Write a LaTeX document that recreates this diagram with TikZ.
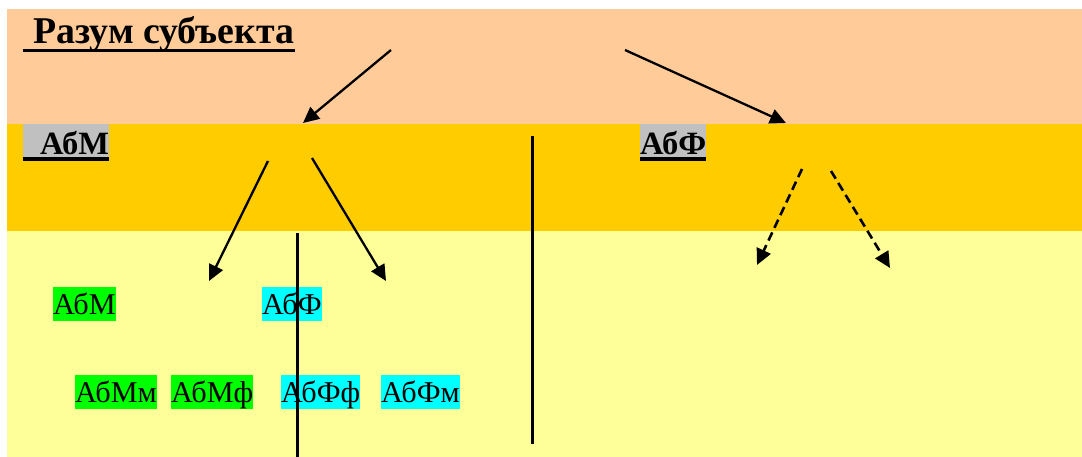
\documentclass[tikz,border=0pt]{standalone}
\usepackage{fontspec}
\setmainfont{Liberation Serif}
\usetikzlibrary{arrows.meta}
\definecolor{peach}{HTML}{FFCC99}
\definecolor{gold}{HTML}{FFCC00}
\definecolor{lyellow}{HTML}{FFFF99}
\definecolor{hgreen}{HTML}{00FF00}
\definecolor{hcyan}{HTML}{00FFFF}
\definecolor{hgray}{HTML}{C0C0C0}
\begin{document}
\begin{tikzpicture}[x=1pt,y=-1pt,
  title/.style={inner sep=0pt, anchor=north west, text height=34pt, text depth=6pt,
    font=\fontsize{37.8}{44}\selectfont\bfseries},
  grlab/.style={inner sep=0pt, anchor=north west, fill=hgray, text height=30pt, text depth=3pt,
    font=\fontsize{32.5}{36}\selectfont\bfseries},
  boxlab/.style={inner sep=0pt, anchor=north west, text height=27pt, text depth=7pt,
    font=\fontsize{30.2}{34}\selectfont},
  glab/.style={boxlab, fill=hgreen},
  clab/.style={boxlab, fill=hcyan},
  uline/.style={line width=#1},
  arr/.style={line width=2.3pt, -{Triangle[length=16pt,width=15pt]}},
  darr/.style={arr, line width=2.6pt, dash pattern=on 9pt off 5pt},
  vline/.style={line width=3pt}]
\useasboundingbox (0,0) rectangle (1082,457);
\fill[white] (0,0) rectangle (1082,457);
\fill[peach] (7,9) rectangle (1082,124);
\fill[gold] (7,124) rectangle (1082,231);
\fill[lyellow] (7,231) rectangle (1082,457);

% title
\node[title] (t) at (23,9) {\hspace*{10pt}Разум субъекта};
\draw[uline=3pt] ([yshift=-7.5pt]t.base west) -- ([yshift=-7.5pt]t.base east);

% gray labels
\node[grlab] (m) at (23,124) {\hspace*{17pt}АбМ};
\draw[uline=4pt] ([yshift=-2pt]m.south west) -- ([yshift=-2pt]m.south east);
\node[grlab] (f) at (640,124) {АбФ};
\draw[uline=4pt] ([yshift=-2pt]f.south west) -- ([yshift=-2pt]f.south east);

% bottom labels
\node[glab] (b1) at (53,287) {АбМ};
\node[clab] (b2) at (262,287) {АбФ};
\node[glab] (c1) at (75,375) {АбМм};
\node[glab] (c2) at (171,375) {АбМф};
\node[clab] (c3) at (281,375) {АбФф};
\node[clab] (c4) at (381,375) {АбФм};

% arrow end points
\coordinate (a1s) at (391,50);  \coordinate (a1e) at (303,123);
\coordinate (a2s) at (625,50);  \coordinate (a2e) at (786,123);
\coordinate (a3s) at (268,161); \coordinate (a3e) at (209,281);
\coordinate (a4s) at (312,158); \coordinate (a4e) at (386,281);
\coordinate (a5s) at (802,169); \coordinate (a5e) at (757,265);
\coordinate (a6s) at (831,171); \coordinate (a6e) at (890,268);
\draw[arr] (a1s) -- (a1e);
\draw[arr] (a2s) -- (a2e);
\draw[arr] (a3s) -- (a3e);
\draw[arr] (a4s) -- (a4e);
\draw[darr] (a5s) -- (a5e);
\draw[darr] (a6s) -- (a6e);

% vertical lines
\coordinate (v1s) at (297,233); \coordinate (v1e) at (297,457);
\coordinate (v2s) at (532,136); \coordinate (v2e) at (532,444);
\draw[vline] (v1s) -- (v1e);
\draw[vline] (v2s) -- (v2e);
\end{tikzpicture}
\end{document}
